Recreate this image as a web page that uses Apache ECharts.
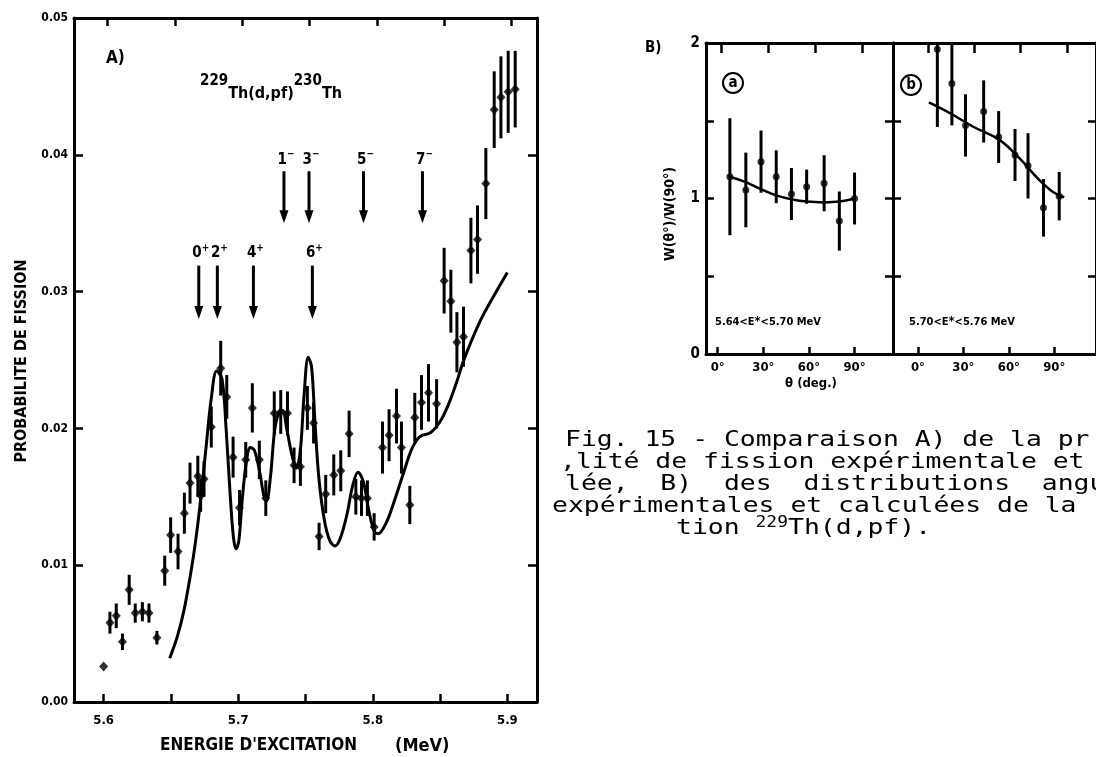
<!DOCTYPE html>
<html><head><meta charset="utf-8">
<script src="https://cdn.jsdelivr.net/npm/echarts@6/dist/echarts.min.js"></script>
<style>html,body{margin:0;padding:0;background:#fff}#c{width:1096px;height:757px}</style>
</head><body><div id="c"></div>
<script>
// ---- Panel A: fission probability vs excitation energy ----
const energy = [5.6000,5.6047,5.6094,5.6140,5.6190,5.6235,5.6288,5.6337,5.6396,5.6454,5.6498,5.6553,5.6600,5.6642,5.6700,5.6721,5.6746,5.6800,5.6870,5.6915,5.6962,5.7010,5.7056,5.7105,5.7157,5.7205,5.7268,5.7316,5.7366,5.7415,5.7462,5.7514,5.7560,5.7601,5.7650,5.7710,5.7762,5.7824,5.7874,5.7916,5.7960,5.8010,5.8072,5.8121,5.8176,5.8213,5.8275,5.8312,5.8362,5.8414,5.8474,5.8530,5.8580,5.8625,5.8674,5.8729,5.8778,5.8840,5.8902,5.8952,5.9006,5.9058];
const prob = [0.0026,0.0058,0.0063,0.0044,0.0082,0.0065,0.0066,0.0065,0.0047,0.0096,0.0122,0.0110,0.0138,0.0160,0.0165,0.0151,0.0163,0.0201,0.0244,0.0223,0.0179,0.0142,0.0177,0.0215,0.0177,0.0149,0.0211,0.0212,0.0211,0.0173,0.0172,0.0215,0.0204,0.0121,0.0152,0.0166,0.0169,0.0196,0.0150,0.0149,0.0149,0.0128,0.0186,0.0195,0.0209,0.0186,0.0144,0.0208,0.0219,0.0226,0.0218,0.0308,0.0293,0.0263,0.0267,0.0330,0.0338,0.0379,0.0433,0.0442,0.0446,0.0448];
const probErr = [0,0.0008,0.0009,0.0006,0.0011,0.0007,0.0007,0.0007,0.0005,0.0011,0.0013,0.0013,0.0015,0.0015,0.0015,0.0012,0.0013,0.0015,0.0020,0.0016,0.0015,0.0013,0.0013,0.0018,0.0014,0.0013,0.0016,0.0016,0.0016,0.0013,0.0014,0.0016,0.0015,0.0010,0.0014,0.0015,0.0015,0.0017,0.0013,0.0013,0.0013,0.0010,0.0019,0.0019,0.0020,0.0019,0.0014,0.0018,0.0020,0.0021,0.0018,0.0024,0.0023,0.0022,0.0022,0.0024,0.0025,0.0026,0.0028,0.0030,0.0030,0.0028];
const theoryE = [5.6491,5.6548,5.6597,5.6647,5.6684,5.6721,5.6760,5.6800,5.6840,5.6880,5.6910,5.6940,5.6965,5.6985,5.7005,5.7030,5.7060,5.7090,5.7120,5.7160,5.7190,5.7210,5.7240,5.7270,5.7300,5.7330,5.7360,5.7400,5.7430,5.7460,5.7490,5.7520,5.7545,5.7570,5.7600,5.7640,5.7680,5.7720,5.7760,5.7810,5.7850,5.7890,5.7930,5.7970,5.8010,5.8040,5.8100,5.8160,5.8230,5.8290,5.8350,5.8430,5.8500,5.8560,5.8620,5.8680,5.8800,5.8900,5.9000];
const theoryP = [0.0032,0.0048,0.0067,0.0094,0.0118,0.0148,0.0185,0.0222,0.0242,0.0236,0.0200,0.0152,0.0120,0.0112,0.0118,0.0148,0.0175,0.0186,0.0184,0.0168,0.0151,0.0147,0.0165,0.0198,0.0211,0.0213,0.0200,0.0180,0.0171,0.0182,0.0225,0.0252,0.0245,0.0205,0.0163,0.0133,0.0118,0.0114,0.0120,0.0138,0.0158,0.0168,0.0161,0.0140,0.0125,0.0123,0.0131,0.0147,0.0168,0.0185,0.0194,0.0197,0.0205,0.0217,0.0233,0.0251,0.0279,0.0297,0.0314];
const levelE = [5.6707,5.6845,5.7113,5.7551,5.7340,5.7526,5.7931,5.8369];
const levelSpin = ['0','2','4','6','1','3','5','7'];
const levelParity = ['+','+','+','+','−','−','−','−'];
const levelBand = [0,0,0,0,1,1,1,1];
const xTicksA = [5.6,5.65,5.7,5.75,5.8,5.85,5.9];
const xLabelsA = [5.6,5.7,5.8,5.9];
const yRightTicksA = [0.01,0.02,0.03,0.04];

// ---- Panel B: angular distributions ----
const angA = [8,18.5,28.5,38.5,48.5,58.5,70,80,90];
const wA = [1.14,1.055,1.237,1.14,1.029,1.076,1.098,0.855,1.0];
const errA = [0.376,0.24,0.2,0.17,0.167,0.11,0.18,0.19,0.167];
const curveAngA = [8,18.5,28.5,38.5,48.5,58.5,70,80,90];
const curveA = [1.14,1.105,1.06,1.02,0.995,0.98,0.975,0.98,1.0];
const angB = [12.8,22.4,31.4,43.4,53.3,64.1,72.7,82.9,93.3];
const wB = [1.96,1.74,1.47,1.56,1.395,1.28,1.21,0.94,1.015];
const errB = [0.5,0.27,0.2,0.2,0.167,0.167,0.21,0.185,0.156];
const curveAngB = [7.2,20.9,36.2,53.8,67,80.1,88.9,96.6];
const curveB = [1.618,1.55,1.463,1.377,1.259,1.119,1.044,1.008];
const angleTicks = [0,30,60,90];

const F = '"DejaVu Sans Condensed","DejaVu Sans",sans-serif';
const M = '"DejaVu Sans Mono","Liberation Mono",monospace';

const chart = echarts.init(document.getElementById('c'), null, {renderer:'canvas'});

function errRender(lw){
  return function(params, api){
    const x = api.value(0), y = api.value(1), e = api.value(2);
    if (!e) return null;
    const a = api.coord([x, y - e]), b = api.coord([x, y + e]);
    return {type:'line', shape:{x1:a[0],y1:a[1],x2:b[0],y2:b[1]}, style:{stroke:'#000', lineWidth:lw}};
  };
}
const axLine = {show:true, onZero:false, lineStyle:{color:'#000', width:3}};
const tickIn = (vals, len) => ({show:true, inside:true, length:len||8, lineStyle:{color:'#000', width:2.5}, customValues: vals});
const noSplit = {show:false};

const option = {
  animation:false,
  backgroundColor:'#fff',
  grid:[
    {left:74, top:18, width:463, height:684},
    {left:706, top:43, width:187, height:311},
    {left:893, top:43, width:204, height:311}
  ],
  xAxis:[
    {gridIndex:0, type:'value', position:'bottom', min:5.578, max:5.922, axisLine:axLine, splitLine:noSplit,
     axisTick:tickIn(xTicksA), axisLabel:{customValues:xLabelsA, formatter:v=>v.toFixed(1), color:'#000', fontFamily:F, fontWeight:'bold', fontSize:13, margin:12}},
    {gridIndex:0, type:'value', position:'top', min:5.575, max:5.919, axisLine:axLine, splitLine:noSplit,
     axisTick:tickIn(xTicksA), axisLabel:{show:false}},
    {gridIndex:1, type:'value', position:'bottom', min:-7.7, max:115.3, axisLine:axLine, splitLine:noSplit,
     axisTick:tickIn(angleTicks,7), axisLabel:{customValues:angleTicks, formatter:v=>v+'°', color:'#000', fontFamily:F, fontWeight:'bold', fontSize:13, margin:7}},
    {gridIndex:1, type:'value', position:'top', min:-10, max:109.5, axisLine:axLine, splitLine:noSplit,
     axisTick:tickIn(angleTicks,10), axisLabel:{show:false}},
    {gridIndex:2, type:'value', position:'bottom', min:-16.5, max:117.6, axisLine:axLine, splitLine:noSplit,
     axisTick:tickIn(angleTicks,7), axisLabel:{customValues:angleTicks, formatter:v=>v+'°', color:'#000', fontFamily:F, fontWeight:'bold', fontSize:13, margin:7}},
    {gridIndex:2, type:'value', position:'top', min:-22.6, max:108.9, axisLine:axLine, splitLine:noSplit,
     axisTick:tickIn(angleTicks,10), axisLabel:{show:false}}
  ],
  yAxis:[
    {gridIndex:0, type:'value', position:'left', min:0, max:0.05, interval:0.01, axisLine:axLine, splitLine:noSplit,
     axisTick:{show:true, inside:true, length:9, lineStyle:{color:'#000', width:2.5}},
     axisLabel:{formatter:v=>v.toFixed(2), color:'#000', fontFamily:F, fontWeight:'bold', fontSize:12, margin:6}},
    {gridIndex:0, type:'value', position:'right', min:0, max:0.05, axisLine:axLine, splitLine:noSplit,
     axisTick:tickIn(yRightTicksA,9), axisLabel:{show:false}},
    {gridIndex:1, type:'value', position:'left', min:0, max:2, interval:0.5, axisLine:axLine, splitLine:noSplit,
     axisTick:{show:true, inside:true, length:8, lineStyle:{color:'#000', width:2.5}},
     axisLabel:{formatter:v=>(v%1===0? String(v):''), color:'#000', fontFamily:F, fontWeight:'bold', fontSize:15, margin:6}},
    {gridIndex:1, type:'value', position:'right', min:0, max:2, axisLine:axLine, splitLine:noSplit,
     axisTick:tickIn([0.5,1,1.5],8), axisLabel:{show:false}},
    {gridIndex:2, type:'value', position:'left', min:0, max:2, axisLine:axLine, splitLine:noSplit,
     axisTick:tickIn([0.5,1,1.5],8), axisLabel:{show:false}},
    {gridIndex:2, type:'value', position:'right', min:0, max:2, axisLine:axLine, splitLine:noSplit,
     axisTick:tickIn([0.5,1,1.5],8), axisLabel:{show:false}}
  ],
  series:[
    {type:'line', xAxisIndex:0, yAxisIndex:0, data:theoryE.map((e,i)=>[e,theoryP[i]]), smooth:0.35,
     showSymbol:false, lineStyle:{color:'#000', width:3}, z:3},
    {type:'custom', xAxisIndex:0, yAxisIndex:0, data:energy.map((e,i)=>[e,prob[i],probErr[i]]), renderItem:errRender(3), z:4},
    {type:'scatter', xAxisIndex:0, yAxisIndex:0, data:energy.map((e,i)=>[e,prob[i]]), symbol:'diamond', symbolSize:[9,10],
     itemStyle:{color:'#000'}, z:5},
    {type:'custom', xAxisIndex:0, yAxisIndex:0, data:levelE.map((e,i)=>[e,levelBand[i]]), z:6,
     renderItem:function(params, api){
       const e = api.value(0), band = api.value(1), i = params.dataIndex;
       const lab = band ? 0.0397 : 0.0329, y1 = band ? 0.0388 : 0.0319, y2 = band ? 0.0350 : 0.0280;
       const pl = api.coord([e, lab]), p1 = api.coord([e, y1]), p2 = api.coord([e, y2]);
       return {type:'group', children:[
         {type:'line', shape:{x1:p1[0],y1:p1[1],x2:p2[0],y2:p2[1]-10}, style:{stroke:'#000', lineWidth:3}},
         {type:'polygon', shape:{points:[[p2[0]-4.5,p2[1]-13],[p2[0]+4.5,p2[1]-13],[p2[0],p2[1]]]}, style:{fill:'#000'}},
         {type:'text', x:pl[0]+2, y:pl[1], style:{text:'{n|'+levelSpin[i]+'}{s|'+levelParity[i]+'}', align:'center', verticalAlign:'middle',
           rich:{n:{fontFamily:F, fontWeight:'bold', fontSize:15, lineHeight:18, verticalAlign:'bottom', fill:'#000'},
                 s:{fontFamily:F, fontWeight:'bold', fontSize:10, lineHeight:18, verticalAlign:'top', fill:'#000'}}}}
       ]};
     }},
    // panel a
    {type:'line', xAxisIndex:2, yAxisIndex:2, data:curveAngA.map((a,i)=>[a,curveA[i]]), smooth:0.4, showSymbol:false, lineStyle:{color:'#000', width:2.5}},
    {type:'custom', xAxisIndex:2, yAxisIndex:2, data:angA.map((a,i)=>[a,wA[i],errA[i]]), renderItem:errRender(3), clip:true},
    {type:'scatter', xAxisIndex:2, yAxisIndex:2, data:angA.map((a,i)=>[a,wA[i]]), symbol:'circle', symbolSize:7, itemStyle:{color:'#000'}},
    // panel b
    {type:'line', xAxisIndex:4, yAxisIndex:4, data:curveAngB.map((a,i)=>[a,curveB[i]]), smooth:0.4, showSymbol:false, lineStyle:{color:'#000', width:2.5}},
    {type:'custom', xAxisIndex:4, yAxisIndex:4, data:angB.map((a,i)=>[a,wB[i],errB[i]]), renderItem:errRender(3), clip:true},
    {type:'scatter', xAxisIndex:4, yAxisIndex:4, data:angB.map((a,i)=>[a,wB[i]]), symbol:'circle', symbolSize:7, itemStyle:{color:'#000'}}
  ],
  graphic:[
    {type:'text', left:106, top:50, style:{text:'A)', font:'bold 17px '+F, fill:'#000'}},
    {type:'text', x:200, y:74, style:{text:'{s|229}{m|Th(d,pf)}{s|230}{m|Th}',
      rich:{s:{fontFamily:F, fontWeight:'bold', fontSize:15, lineHeight:28, verticalAlign:'top', fill:'#000'},
            m:{fontFamily:F, fontWeight:'bold', fontSize:16, lineHeight:28, verticalAlign:'bottom', fill:'#000'}}}},
    {type:'text', x:22, y:361, rotation:Math.PI/2, style:{text:'PROBABILITE DE FISSION', font:'bold 16px '+F, fill:'#000', align:'center', verticalAlign:'middle'}},
    {type:'text', x:160, y:746, style:{text:"ENERGIE D'EXCITATION", font:'bold 17px '+F, fill:'#000', verticalAlign:'middle'}},
    {type:'text', x:395, y:746, style:{text:"(MeV)", font:'bold 18px '+F, fill:'#000', verticalAlign:'middle'}},
    {type:'text', x:645, y:48, style:{text:'B)', font:'bold 15px '+F, fill:'#000', verticalAlign:'middle'}},
    {type:'circle', shape:{cx:733, cy:83, r:10}, style:{stroke:'#000', lineWidth:2, fill:'none'}},
    {type:'text', x:733, y:83, style:{text:'a', font:'bold 15px '+F, fill:'#000', align:'center', verticalAlign:'middle'}},
    {type:'circle', shape:{cx:911, cy:85, r:10}, style:{stroke:'#000', lineWidth:2, fill:'none'}},
    {type:'text', x:911, y:85, style:{text:'b', font:'bold 15px '+F, fill:'#000', align:'center', verticalAlign:'middle'}},
    {type:'text', x:670, y:214, rotation:Math.PI/2, style:{text:'W(θ°)/W(90°)', font:'bold 14px '+F, fill:'#000', align:'center', verticalAlign:'middle'}},
    {type:'text', x:768, y:322, style:{text:'5.64<E{s|*}<5.70 MeV', font:'bold 11px '+F, fill:'#000', align:'center', verticalAlign:'middle',
      rich:{s:{fontFamily:F, fontWeight:'bold', fontSize:13, verticalAlign:'top'}}}},
    {type:'text', x:962, y:322, style:{text:'5.70<E{s|*}<5.76 MeV', font:'bold 11px '+F, fill:'#000', align:'center', verticalAlign:'middle',
      rich:{s:{fontFamily:F, fontWeight:'bold', fontSize:13, verticalAlign:'top'}}}},
    {type:'text', x:811, y:384, style:{text:'θ (deg.)', font:'bold 13px '+F, fill:'#000', align:'center', verticalAlign:'middle'}},
    {type:'text', x:565, y:440, scaleX:1.2, style:{text:'Fig. 15 - Comparaison A) de la pr', font:'22px '+M, fill:'#000', verticalAlign:'middle'}},
    {type:'text', x:560, y:462, scaleX:1.2, style:{text:',lité de fission expérimentale et', font:'22px '+M, fill:'#000', verticalAlign:'middle'}},
    {type:'text', x:565, y:484, scaleX:1.2, style:{text:'lée,  B)  des  distributions  angu', font:'22px '+M, fill:'#000', verticalAlign:'middle'}},
    {type:'text', x:552, y:506, scaleX:1.2, style:{text:'expérimentales et calculées de la', font:'22px '+M, fill:'#000', verticalAlign:'middle'}},
    {type:'text', x:676, y:528, scaleX:1.2, style:{text:'tion {s|229}Th(d,pf).', font:'22px '+M, fill:'#000', verticalAlign:'middle',
      rich:{s:{fontFamily:M, fontSize:15, verticalAlign:'top', lineHeight:24}}}}
  ]
};
chart.setOption(option);
</script></body></html>
